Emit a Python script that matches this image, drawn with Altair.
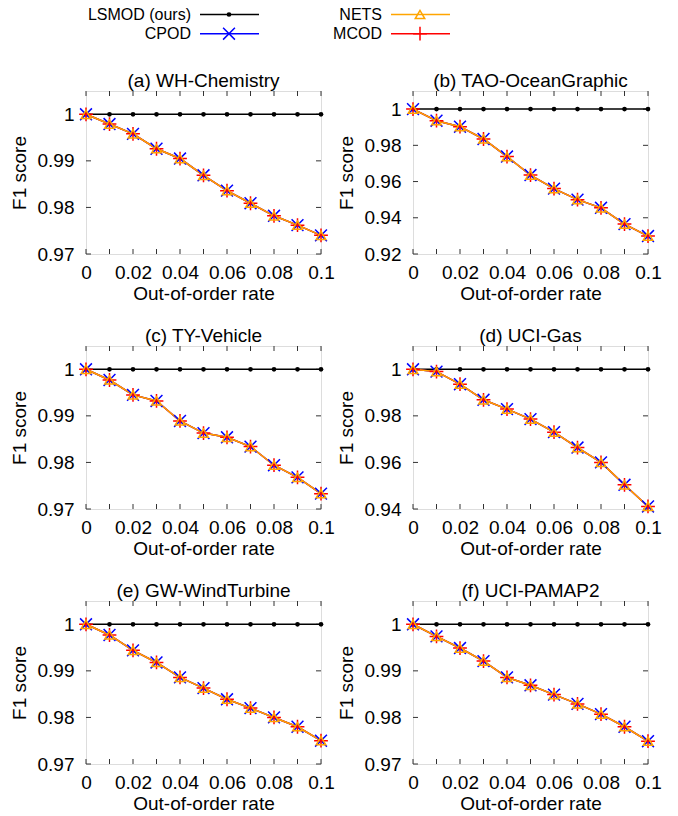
import altair as alt
import pandas as pd

# ---------------- data ----------------
rates = [0.0, 0.01, 0.02, 0.03, 0.04, 0.05, 0.06, 0.07, 0.08, 0.09, 0.1]
lsmod = [1.0, 1.0, 1.0, 1.0, 1.0, 1.0, 1.0, 1.0, 1.0, 1.0, 1.0]

# baselines (CPOD, NETS, MCOD) coincide in every panel
wh_chemistry = [1.0, 0.9979, 0.9958, 0.9926, 0.9905, 0.9869, 0.9836, 0.9809, 0.9782, 0.9762, 0.9740]
tao_ocean = [1.0, 0.9936, 0.9903, 0.9835, 0.9738, 0.9636, 0.9561, 0.9500, 0.9455, 0.9365, 0.9299]
ty_vehicle = [1.0, 0.9977, 0.9945, 0.9932, 0.9889, 0.9863, 0.9854, 0.9834, 0.9794, 0.9768, 0.9733]
uci_gas = [1.0, 0.9990, 0.9936, 0.9869, 0.9829, 0.9786, 0.9730, 0.9664, 0.9600, 0.9504, 0.9411]
gw_wind = [1.0, 0.9977, 0.9944, 0.9918, 0.9886, 0.9863, 0.9839, 0.9820, 0.9800, 0.9780, 0.9750]
uci_pamap2 = [1.0, 0.9974, 0.9949, 0.9921, 0.9886, 0.9869, 0.9849, 0.9829, 0.9807, 0.9780, 0.9749]

panel_titles = ["(a) WH-Chemistry", "(b) TAO-OceanGraphic", "(c) TY-Vehicle",
                "(d) UCI-Gas", "(e) GW-WindTurbine", "(f) UCI-PAMAP2"]
panel_values = [wh_chemistry, tao_ocean, ty_vehicle, uci_gas, gw_wind, uci_pamap2]
y_domains = [[0.97, 1.005], [0.92, 1.01], [0.97, 1.005], [0.94, 1.01], [0.97, 1.005], [0.97, 1.005]]
y_ticks = [[0.97, 0.98, 0.99, 1.0], [0.92, 0.94, 0.96, 0.98, 1.0], [0.97, 0.98, 0.99, 1.0],
           [0.94, 0.96, 0.98, 1.0], [0.97, 0.98, 0.99, 1.0], [0.97, 0.98, 0.99, 1.0]]
x_labels = [0.0, 0.02, 0.04, 0.06, 0.08, 0.1]
x_tick_marks = [0.0, 0.01, 0.02, 0.03, 0.04, 0.05, 0.06, 0.07, 0.08, 0.09, 0.1]

methods = ["LSMOD (ours)", "CPOD", "NETS", "MCOD"]
colors = {"LSMOD (ours)": "#000000", "CPOD": "#0000FF", "NETS": "#FFA500", "MCOD": "#FF0000"}
shapes = {"LSMOD (ours)": "circle", "CPOD": "M-1,-1L1,1M-1,1L1,-1",
          "NETS": "triangle-up", "MCOD": "M-1,0L1,0M0,-1L0,1"}
sizes = {"LSMOD (ours)": 22, "CPOD": 140, "NETS": 90, "MCOD": 190}
draw_order = ["LSMOD (ours)", "CPOD", "MCOD", "NETS"]
leg_col = {"LSMOD (ours)": 0, "CPOD": 0, "NETS": 1, "MCOD": 1}
leg_row = {"LSMOD (ours)": 0, "CPOD": 1, "NETS": 0, "MCOD": 1}

# ---------------- style ----------------
FONT = "Liberation Sans"
W, H = 235, 163
TICK = 5
FS = 19


def panel(title, vals, ydom, yt):
    rows = []
    for m in methods:
        v = lsmod if m == "LSMOD (ours)" else vals
        for xx, yy in zip(rates, v):
            rows.append({"rate": xx, "f1": yy, "method": m})
    df = pd.DataFrame(rows)

    xs = alt.Scale(domain=[0, 0.1], nice=False, zero=False)
    ys = alt.Scale(domain=ydom, nice=False, zero=False)
    xax = alt.Axis(values=x_labels, format="~g", title="Out-of-order rate", ticks=False,
                   domain=False, grid=False, labelFontSize=FS, titleFontSize=FS,
                   labelFont=FONT, titleFont=FONT, labelColor="black", titleColor="black",
                   titleFontWeight="normal", labelPadding=9.5, titlePadding=2,
                   labelFlush=False, labelOverlap=False)
    yax = alt.Axis(values=yt, format="~g", title="F1 score", ticks=False,
                   domain=False, grid=False, labelFontSize=FS, titleFontSize=FS,
                   labelFont=FONT, titleFont=FONT, labelColor="black", titleColor="black",
                   titleFontWeight="normal", labelPadding=12, titlePadding=8,
                   labelFlush=False, labelOverlap=False)
    xenc = alt.X("rate:Q", scale=xs, axis=xax)
    yenc = alt.Y("f1:Q", scale=ys, axis=yax)

    xt = pd.DataFrame({"rate": x_tick_marks})
    ytd = pd.DataFrame({"f1": yt})
    layers = [
        alt.Chart(xt).mark_rule(color="#333333", strokeWidth=1).encode(
            x=xenc, y=alt.value(H), y2=alt.value(H - TICK)),
        alt.Chart(xt).mark_rule(color="#333333", strokeWidth=1).encode(
            x=xenc, y=alt.value(0), y2=alt.value(TICK)),
        alt.Chart(ytd).mark_rule(color="#333333", strokeWidth=1).encode(
            y=yenc, x=alt.value(0), x2=alt.value(TICK)),
        alt.Chart(ytd).mark_rule(color="#333333", strokeWidth=1).encode(
            y=yenc, x=alt.value(W), x2=alt.value(W - TICK)),
    ]
    base = alt.Chart(df)
    for m in draw_order:
        sub = base.transform_filter(alt.datum.method == m)
        layers.append(sub.mark_line(color=colors[m], strokeWidth=1.5).encode(x=xenc, y=yenc))
    for m in draw_order:
        sub = base.transform_filter(alt.datum.method == m)
        if m == "LSMOD (ours)":
            pt = sub.mark_point(shape=shapes[m], color=colors[m], filled=True,
                                size=sizes[m], opacity=1)
        else:
            pt = sub.mark_point(shape=shapes[m], color=colors[m], filled=False,
                                size=sizes[m], strokeWidth=1.5, opacity=1)
        layers.append(pt.encode(x=xenc, y=yenc))

    return alt.layer(*layers).properties(
        width=W, height=H,
        title=alt.TitleParams(title, fontSize=FS, font=FONT, fontWeight="normal",
                              color="black", offset=0, anchor="middle"))


# ---------------- legend ----------------
leg_df = pd.DataFrame({"method": methods,
                       "col": [leg_col[m] for m in methods],
                       "row": [leg_row[m] for m in methods]})
LW = 562
lx = alt.X("col:Q", scale=alt.Scale(domain=[0, 1], range=[105, 296]), axis=None)
ly = alt.Y("row:Q", scale=alt.Scale(domain=[0, 1], range=[13.5, 32.7]), axis=None)
lbase = alt.Chart(leg_df)
leg_layers = [
    lbase.mark_text(align="right", baseline="middle", fontSize=16, font=FONT,
                    color="black").encode(x=lx, y=ly, text="method:N")
]
for m in methods:
    sub = lbase.transform_filter(alt.datum.method == m)
    leg_layers.append(sub.mark_rule(color=colors[m], strokeWidth=1.5, xOffset=9,
                                    x2Offset=68).encode(x=lx, x2="col:Q", y=ly))
    if m == "LSMOD (ours)":
        leg_layers.append(sub.mark_point(shape=shapes[m], color=colors[m], filled=True,
                                         size=sizes[m], opacity=1, xOffset=38).encode(x=lx, y=ly))
    else:
        leg_layers.append(sub.mark_point(shape=shapes[m], color=colors[m], filled=False,
                                         size=sizes[m], strokeWidth=1.5, opacity=1,
                                         xOffset=38).encode(x=lx, y=ly))
legend = alt.layer(*leg_layers).properties(
    width=LW, height=40, view=alt.ViewBackground(stroke="transparent"))

panels = [panel(t, v, d, yt) for t, v, d, yt in zip(panel_titles, panel_values, y_domains, y_ticks)]
grid = alt.concat(*panels, columns=2, spacing=92, bounds="flush")

chart = alt.vconcat(legend, grid, spacing=26).properties(
    padding={"left": 9, "top": 0, "right": 5, "bottom": 5}
).configure_view(stroke="black", strokeWidth=1.5).configure(background="white")

chart.save("out.html", embed_options={"renderer": "svg", "actions": False})
